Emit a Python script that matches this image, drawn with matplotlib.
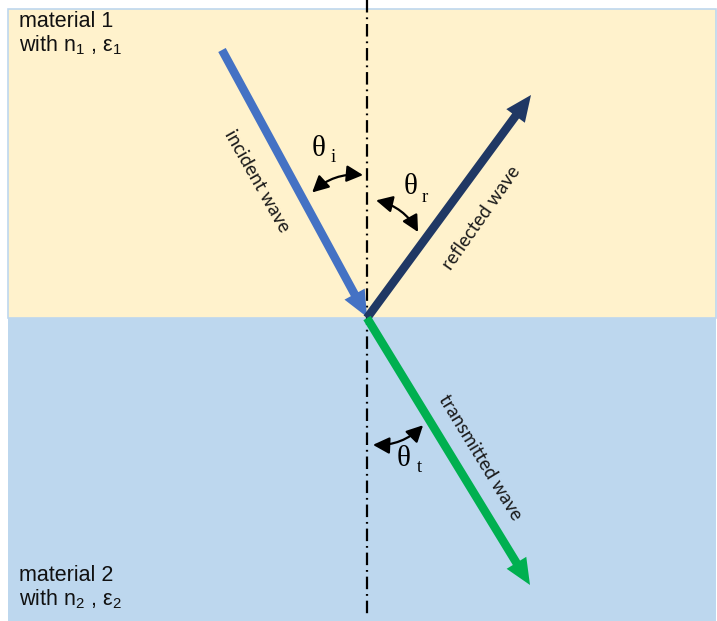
import numpy as np
import matplotlib
matplotlib.use("Agg")
import matplotlib.pyplot as plt
from matplotlib.patches import Rectangle, FancyArrowPatch

plt.rcParams["mathtext.fontset"] = "custom"
plt.rcParams["mathtext.rm"] = "Liberation Sans"
plt.rcParams["mathtext.it"] = "Liberation Sans:italic"
plt.rcParams["lines.scale_dashes"] = False

W, H = 717, 621

# geometry of the scene (pixel-like units)
interface_y = 318
vertex = (367, 318)
incident_start = (222, 50)
incident_tip = (367, 317)
reflected_tip = (531, 95)
transmitted_tip = (530, 585)

ray_colors = ["#4472C4", "#203864", "#00B050"]
ray_labels = ["incident wave", "reflected wave", "transmitted wave"]
label_pos = [(257, 181), (481, 218), (480, 457)]
label_rot = [-60.5, 55.0, -58.6]

# angle arcs: radius/angle (deg from normal) at each end, side x, side y, bend
arc_r0 = [137, 118, 127]
arc_a0 = [23.6, 4.4, 2.7]
arc_r1 = [143, 100, 121]
arc_a1 = [1.6, 30.7, 27.6]
arc_sx = [-1, 1, 1]
arc_sy = [-1, -1, 1]
arc_bend = [-0.22, -0.22, 0.22]

theta_subs = ["i", "r", "t"]
theta_pos = [(319, 149), (411, 187), (404, 459)]
sub_pos = [(333, 158), (425, 197), (419, 468)]

materials = ["material 1\nwith n$_1$ , ε$_1$", "material 2\nwith n$_2$ , ε$_2$"]
material_pos = [(19, 11), (19, 565)]

fig = plt.figure(figsize=(W / 100, H / 100), dpi=100)
ax = fig.add_axes([0, 0, 1, 1])
ax.set_xlim(0, W)
ax.set_ylim(H, 0)
ax.axis("off")

# backgrounds
ax.add_patch(Rectangle((8, 9), W - 9, interface_y - 9, facecolor="#FFF2CC",
                       edgecolor="#BDD7EE", lw=1.2))
ax.add_patch(Rectangle((8, interface_y), W - 9, H - interface_y, facecolor="#BDD7EE",
                       edgecolor="none"))

# normal
ax.plot([vertex[0], vertex[0]], [0, 615], color="black", lw=1.6,
        dashes=(9, 3.5, 1.3, 3.5))

# rays
starts = [incident_start, vertex, vertex]
tips = [incident_tip, reflected_tip, transmitted_tip]
for s, t, c in zip(starts, tips, ray_colors):
    ax.arrow(s[0], s[1], t[0] - s[0], t[1] - s[1], width=8.5, head_width=23,
             head_length=26, length_includes_head=True, color=c, lw=0, zorder=3)

for txt, p, r in zip(ray_labels, label_pos, label_rot):
    ax.text(p[0], p[1], txt, rotation=r, rotation_mode="anchor", ha="center",
            va="center", fontsize=13.5, family="Lato", color="#1a1a1a")


def polar(r, a, sx, sy):
    a = np.radians(a)
    return (vertex[0] + sx * r * np.sin(a), vertex[1] + sy * r * np.cos(a))


# angle arcs
for r0, a0, r1, a1, sx, sy, b in zip(arc_r0, arc_a0, arc_r1, arc_a1, arc_sx, arc_sy, arc_bend):
    arc = FancyArrowPatch(polar(r0, a0, sx, sy), polar(r1, a1, sx, sy),
                          connectionstyle=f"arc3,rad={b}",
                          arrowstyle="<|-|>,head_length=0.55,head_width=0.28",
                          mutation_scale=18, shrinkA=0, shrinkB=0,
                          color="black", lw=1.6, zorder=4)
    ax.add_patch(arc)

for sub, p, q in zip(theta_subs, theta_pos, sub_pos):
    ax.text(p[0], p[1], "θ", fontsize=21, family="Liberation Serif", ha="center", va="center")
    ax.text(q[0], q[1], sub, fontsize=13.5, family="Liberation Serif", ha="center", va="center")

for txt, p in zip(materials, material_pos):
    ax.text(p[0], p[1], txt, fontsize=15.5, family="Liberation Sans", ha="left", va="top",
            linespacing=1.1, color="#111111")

fig.savefig("out.png", dpi=100)
